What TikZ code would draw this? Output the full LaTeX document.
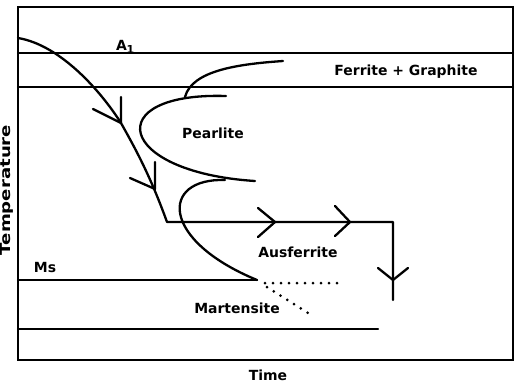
\documentclass[tikz,border=0pt]{standalone}
\usepackage{fontspec}
\setmainfont{DejaVu Sans}
\begin{document}
\begin{tikzpicture}[x=1bp,y=-1bp,
  every node/.style={font=\bfseries\fontsize{14}{16}\selectfont, inner sep=0pt},
  thick line/.style={line width=2.3bp, line cap=round, line join=round},
  frame/.style={line width=2.6bp},
  dotline/.style={line width=3bp, line cap=round, dash pattern=on 0pt off 8bp}]
\useasboundingbox (0,0) rectangle (518,383);
% frame and horizontal lines
\draw[frame] (18,7) rectangle (513,360);
\coordinate (a1l) at (18,53);  \coordinate (a1r) at (513,53);
\coordinate (l2l) at (18,87);  \coordinate (l2r) at (513,87);
\coordinate (msl) at (18,280); \coordinate (msr) at (257,280);
\coordinate (mfl) at (18,329); \coordinate (mfr) at (378,329);
\draw[thick line] (a1l) -- (a1r);
\draw[thick line] (l2l) -- (l2r);
\draw[thick line] (msl) -- (msr);
\draw[thick line] (mfl) -- (mfr);
% C curves
\coordinate (fg0) at (185,97); \coordinate (fg1) at (283,61);
\draw[thick line] (fg0) .. controls (192,70) and (240,64) .. (fg1);
\coordinate (pc0) at (226,96); \coordinate (pc1) at (255,181);
\draw[thick line] (pc0) .. controls (100,92) and (115,172) .. (pc1);
\coordinate (bc0) at (225,180);
\draw[thick line] (bc0) .. controls (160,178) and (160,240) .. (msr);
% cooling path
\coordinate (c0) at (18,38);
\coordinate (t1) at (121,123);
\coordinate (corner) at (167,222);
\coordinate (iend) at (393,222);
\coordinate (vend) at (393,300);
\draw[thick line] (c0) .. controls (60,45) and (100,90) .. (t1)
  .. controls (135,148) and (150,175) .. (corner) -- (iend) -- (vend);
% arrow barbs
\coordinate (t2) at (155,189);
\draw[thick line] (121,97) -- (t1) -- (93,109);
\draw[thick line] (155,162) -- (t2) -- (130,178);
\coordinate (h1) at (275,222);
\coordinate (h2) at (350,222);
\coordinate (v1) at (393,280);
\draw[thick line] (258,208) -- (h1) -- (258,237);
\draw[thick line] (335,206) -- (h2) -- (335,236);
\draw[thick line] (378,268) -- (v1) -- (408,268);
% dotted martensite lines
\coordinate (d0) at (265,283); \coordinate (d1) at (340,283);
\coordinate (d2) at (267,287); \coordinate (d3) at (308,313);
\draw[dotline] (d0) -- (d1);
\draw[dotline] (d2) -- (d3);
% labels
\node[anchor=base west] (A) at (116,50) {A};
\node[anchor=base west, font=\bfseries\fontsize{11}{12}\selectfont] (A1) at (126.5,53) {1};
\node (fg) at (406,72) {Ferrite + Graphite};
\node (pe) at (213,133) {Pearlite};
\node (au) at (298,252) {Ausferrite};
\node (ms) at (45,268) {Ms};
\node (ma) at (237,308) {Martensite};
\node (ti) at (268,375) {Time};
\node[rotate=90] (te) at (7,190) {\scalebox{1.3}[1]{Temperature}};
\end{tikzpicture}
\end{document}
